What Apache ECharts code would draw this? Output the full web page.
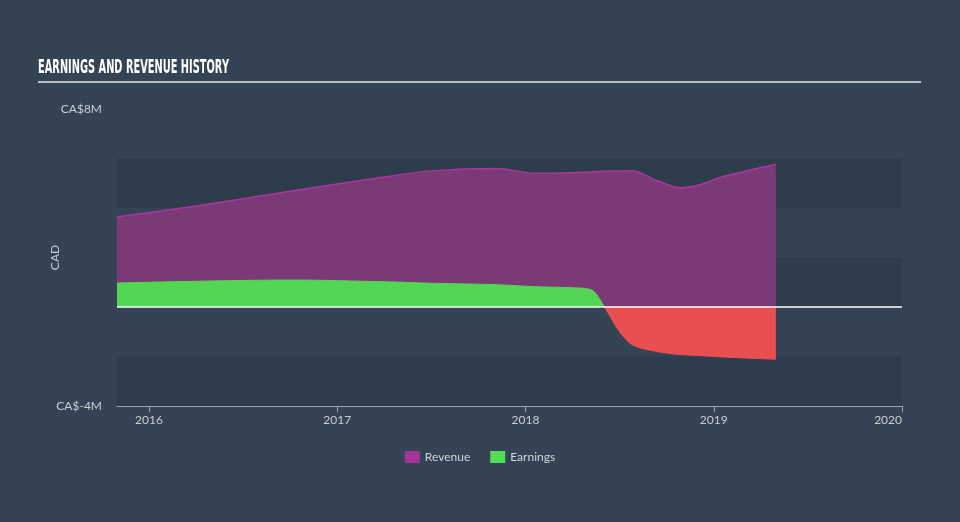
<!DOCTYPE html>
<html><head><meta charset="utf-8">
<script src="https://cdn.jsdelivr.net/npm/echarts@6/dist/echarts.min.js"></script>
<style>html,body{margin:0;padding:0;background:#344454;}#c{width:960px;height:522px;}</style>
</head><body><div id="c"></div>
<script>
// decimal years
var dates = [2015.83, 2016.25, 2016.75, 2017.25, 2017.5, 2017.85, 2018.05, 2018.3, 2018.36, 2018.42, 2018.5, 2018.57, 2018.7, 2018.82, 2018.92, 2019.05, 2019.33];
// CA$ millions
var revenue = [3.64, 4.08, 4.68, 5.25, 5.5, 5.6, 5.4, 5.44, 5.46, 5.48, 5.5, 5.51, 5.1, 4.82, 4.93, 5.27, 5.77];
var earnings = [0.97, 1.04, 1.09, 1.02, 0.96, 0.9, 0.82, 0.76, 0.65, 0.0, -1.0, -1.54, -1.8, -1.92, -1.96, -2.02, -2.11];
var yearTicks = [2016, 2017, 2018, 2019, 2020];
var yLabels = {8: 'CA$8M', '-4': 'CA$-4M'};

var titleText = 'EARNINGS AND REVENUE HISTORY';
var titleFont = 'bold 19px "DejaVu Sans"';
var cv = document.createElement('canvas').getContext('2d');
cv.font = titleFont;
var titleScale = 191 / cv.measureText(titleText).width;

var H = 522, gridTop = 109, gridBottom = 116, yMin = -4, yMax = 8;
// fraction of chart height where value 0 sits (derived from grid/axis config)
var zeroFrac = (gridTop + (yMax / (yMax - yMin)) * (H - gridTop - gridBottom)) / H;
function splitGrad(up, down) {
  return {type: 'linear', x: 0, y: 0, x2: 0, y2: H, global: true, colorStops: [
    {offset: 0, color: up}, {offset: zeroFrac, color: up}, {offset: zeroFrac, color: down}, {offset: 1, color: down}
  ]};
}

var chart = echarts.init(document.getElementById('c'), null, {renderer: 'canvas'});
var font = 'Lato';
chart.setOption({
  backgroundColor: '#344454',
  animation: false,
  textStyle: {fontFamily: font},
  graphic: [
    {type: 'text', x: 38, y: 59, scaleX: titleScale, style: {text: titleText, fill: '#ffffff', font: titleFont}},
    {type: 'rect', shape: {x: 38, y: 81, width: 883, height: 2}, style: {fill: '#b8bfc6'}}
  ],
  grid: {left: 117, right: 58, top: gridTop, bottom: gridBottom},
  legend: {
    bottom: 54, left: 'center', itemWidth: 15, itemHeight: 12, itemGap: 20, icon: 'rect',
    textStyle: {color: '#d0d5da', fontSize: 12, fontFamily: font},
    data: [{name: 'Revenue', itemStyle: {color: '#a3369d'}}, {name: 'Earnings', itemStyle: {color: '#52dd54'}}]
  },
  xAxis: {
    type: 'value', min: 2015.83, max: 2020,
    axisLine: {onZero: false, lineStyle: {color: '#9aa5b0', width: 1}},
    axisTick: {show: true, length: 6, lineStyle: {color: '#9aa5b0'}, customValues: yearTicks},
    axisLabel: {color: '#c9ced3', fontSize: 12, margin: 8, customValues: yearTicks, alignMaxLabel: 'right', formatter: function (v) { return String(Math.round(v)); }},
    splitLine: {show: false}
  },
  yAxis: {
    type: 'value', min: yMin, max: yMax, interval: 2,
    name: 'CAD', nameLocation: 'middle', nameGap: 56, nameRotate: 90, nameMoveOverlap: false,
    nameTextStyle: {color: '#c9ced3', fontSize: 12},
    axisLine: {show: false}, axisTick: {show: false},
    axisLabel: {color: '#c9ced3', fontSize: 12, margin: 15, formatter: function (v) { return yLabels[v] || ''; }},
    splitLine: {show: false},
    splitArea: {show: true, areaStyle: {color: ['#2e3d4c', 'rgba(0,0,0,0)']}}
  },
  series: [
    {
      name: 'Revenue', type: 'line', smooth: 0.3, symbol: 'none',
      data: dates.map(function (d, i) { return [d, revenue[i]]; }),
      lineStyle: {color: '#a8389f', width: 1.5},
      itemStyle: {color: '#a3369d'},
      areaStyle: {color: '#7b3a76', opacity: 1},
      markLine: {silent: true, symbol: 'none', label: {show: false}, lineStyle: {color: '#ffffff', width: 1.5, type: 'solid'}, data: [{yAxis: 0}]},
      z: 2
    },
    {
      name: 'Earnings', type: 'line', smooth: 0.3, symbol: 'none',
      data: dates.map(function (d, i) { return [d, earnings[i]]; }),
      lineStyle: {width: 1, color: splitGrad('#52d653', '#f04f50')},
      itemStyle: {color: '#52dd54'},
      areaStyle: {opacity: 1, color: splitGrad('#52d653', '#e94f51')},
      z: 3
    }
  ]
});
</script>
</body></html>
